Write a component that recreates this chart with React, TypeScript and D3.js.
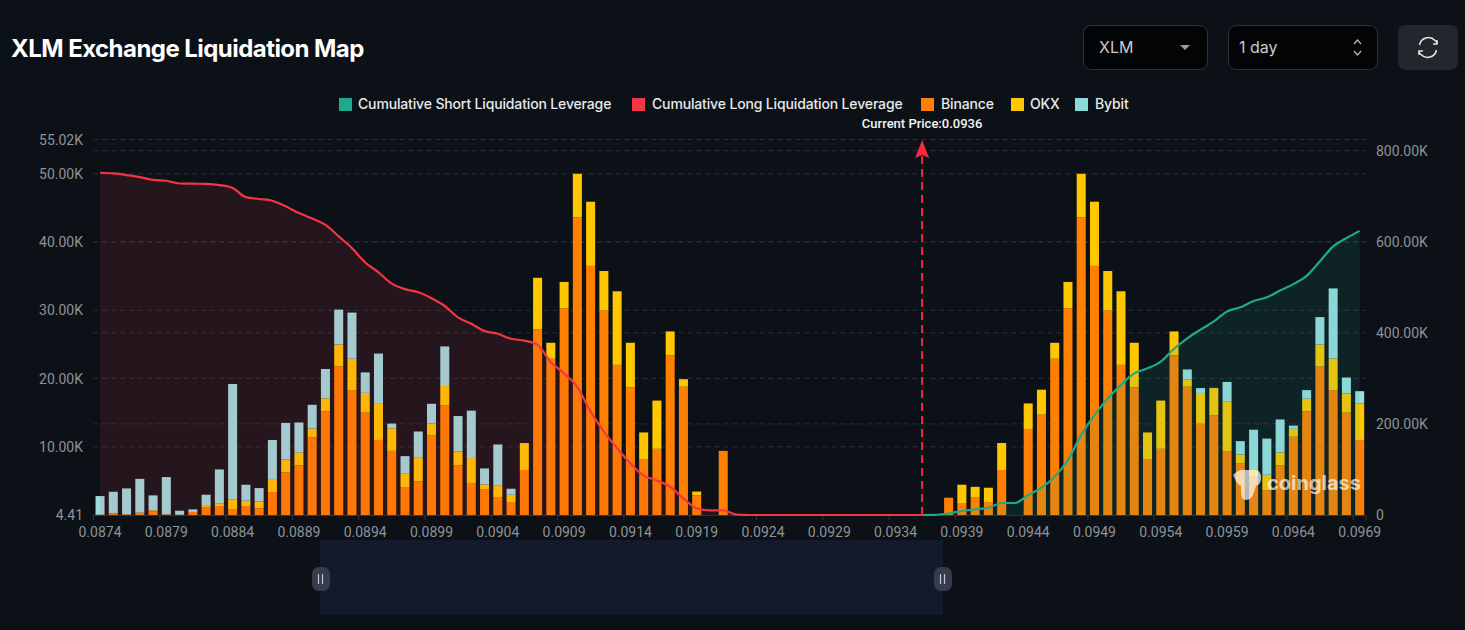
import React from "react";
import * as d3 from "d3";

const prices = [
  "0.0874","0.0875","0.0876","0.0877","0.0878","0.0879","0.0880","0.0881","0.0882","0.0883","0.0884","0.0885",
  "0.0886","0.0887","0.0888","0.0889","0.0890","0.0891","0.0892","0.0893","0.0894","0.0895","0.0896","0.0897",
  "0.0898","0.0899","0.0900","0.0901","0.0902","0.0903","0.0904","0.0905","0.0906","0.0907","0.0908","0.0909",
  "0.0910","0.0911","0.0912","0.0913","0.0914","0.0915","0.0916","0.0917","0.0918","0.0919","0.0920","0.0921",
  "0.0922","0.0923","0.0924","0.0925","0.0926","0.0927","0.0928","0.0929","0.0930","0.0931","0.0932","0.0933",
  "0.0934","0.0935","0.0936","0.0937","0.0938","0.0939","0.0940","0.0941","0.0942","0.0943","0.0944","0.0945",
  "0.0946","0.0947","0.0948","0.0949","0.0950","0.0951","0.0952","0.0953","0.0954","0.0955","0.0956","0.0957",
  "0.0958","0.0959","0.0960","0.0961","0.0962","0.0963","0.0964","0.0965","0.0966","0.0967","0.0968","0.0969",
];

const binance = [
  0, 0.25, 0.05, 0.3, 0.55, 0.05, 0, 0.45, 1.17, 1.32, 0.88, 1.32,
  0.98, 3.37, 6.24, 7.3, 11.4, 15.2, 21.8, 18.3, 15, 11, 9.4, 4.1,
  4.93, 11.7, 16.1, 7.3, 4.7, 3.8, 2.63, 1.9, 6.6, 27.2, 22.9, 30.3,
  43.6, 36.5, 29.95, 22, 18.7, 8.2, 9.7, 23.4, 18.8, 2.9, 0, 9.4,
  0, 0, 0, 0, 0, 0, 0, 0, 0, 0, 0, 0,
  0, 0, 0, 0, 2.54, 1.76, 2.63, 1.9, 6.6, 0, 12.6, 14.7,
  22.9, 30.3, 43.6, 36.5, 29.95, 22, 18.7, 8.2, 9.7, 23.4, 18.8, 13.37,
  14.6, 9.37, 7.56, 5.6, 3.66, 7.3, 11.46, 15.2, 21.8, 18.3, 15, 11,
];
const okx = [
  0.05, 0.02, 0.05, 0.05, 0.15, 0.05, 0.05, 0, 0.29, 0.34, 1.37, 0.78,
  1.02, 1.9, 1.9, 1.85, 1.27, 1.9, 3.2, 4.6, 2.9, 5.4, 3.3, 1.95,
  3.46, 1.7, 2.8, 2, 3.65, 0.68, 1.66, 1.07, 3.95, 7.56, 2.34, 3.85,
  6.4, 9.4, 5.8, 10.78, 6.54, 3.9, 7.07, 3.5, 1.1, 0.54, 0, 0,
  0, 0, 0, 0, 0, 0, 0, 0, 0, 0, 0, 0,
  0, 0, 0, 0, 0, 2.68, 1.5, 2.1, 3.95, 0, 3.75, 3.66,
  2.34, 3.85, 6.4, 9.4, 5.8, 10.78, 6.54, 3.9, 7.07, 3.5, 1.07, 4.5,
  4, 7.3, 1.3, 1, 2.24, 1.85, 1.17, 1.85, 3.2, 4.63, 2.8, 5.37,
];
const bybit = [
  2.73, 3.14, 3.8, 4.95, 2.18, 5.46, 0.58, 0.38, 1.52, 5.02, 16.95, 2.34,
  1.95, 5.73, 5.36, 4.41, 3.48, 4.3, 5.1, 6.76, 3, 7.26, 0.7, 2.58,
  3.85, 2.9, 5.8, 5.2, 6.95, 2.35, 6.05, 0.88, 0, 0, 0, 0,
  0, 0, 0, 0, 0, 0, 0, 0, 0, 0, 0, 0,
  0, 0, 0, 0, 0, 0, 0, 0, 0, 0, 0, 0,
  0, 0, 0, 0, 0, 0, 0, 0, 0, 0, 0, 0,
  0, 0, 0, 0, 0, 0, 0, 0, 0, 0, 1.46, 0.73,
  0.03, 2.83, 1.97, 5.9, 5.3, 4.85, 0.47, 1.25, 4, 10.27, 2.35, 1.78,
];

// cumulative leverage, right axis, in thousands. Indexed from the first price.
const longCumulative = [
  751.6, 750, 746.5, 742, 736, 734, 728, 727.5, 727, 724.5, 718, 698,
  694, 690, 678, 663, 651, 637, 612, 586, 554.6, 533, 508, 496,
  489, 476, 459, 434, 420, 404, 398, 387, 383, 373.6, 335.5, 311,
  280.6, 227, 183, 146.5, 113.5, 86.4, 76, 62, 36.6, 14.6, 10, 10,
  0.7, 0, 0, 0, 0, 0, 0, 0, 0, 0, 0, 0, 0, 0, 0,
];
// Indexed from the current price (0.0936).
const shortCumulative = [
  0, 0.2, 3.7, 8.8, 12.5, 16, 26.4, 26.4, 44, 60, 84, 121,
  176, 220, 256, 286, 311, 322, 337, 365, 388, 407, 425, 447,
  456, 470, 478, 493, 507, 525, 557, 590, 608, 624,
];
const shortStart = 62;

const leftTicks = [4.41e-3, 10, 20, 30, 40, 50, 55.02];
const leftTickLabels = ["4.41", "10.00K", "20.00K", "30.00K", "40.00K", "50.00K", "55.02K"];
const rightTicks = [0, 200, 400, 600, 800];
const rightTickLabels = ["0", "200.00K", "400.00K", "600.00K", "800.00K"];
const legendItems = [
  { label: "Cumulative Short Liquidation Leverage", color: "#1FA98C", sq: 339, tx: 358 },
  { label: "Cumulative Long Liquidation Leverage", color: "#F23645", sq: 632, tx: 652 },
  { label: "Binance", color: "#FF8000", sq: 921, tx: 941 },
  { label: "OKX", color: "#FFC700", sq: 1011, tx: 1030 },
  { label: "Bybit", color: "#8BDADB", sq: 1075, tx: 1095 },
];

const BG = "#0C1118";
const UI = "Inter, 'Noto Sans', sans-serif";
const AXIS = "Roboto, 'Noto Sans', sans-serif";

export default function App() {
  const x = d3.scaleBand<string>().domain(prices).range([93.4, 1366.3]).paddingInner(0.32).paddingOuter(0.16);
  const yL = d3.scaleLinear().domain([0.00441, 55.02]).range([515, 139.5]);
  const yR = d3.scaleLinear().domain([0, 800]).range([515, 150.7]);
  const cx = (i: number) => (x(prices[i]) as number) + x.bandwidth() / 2;

  const table = prices.map((p, i) => ({ p, binance: binance[i], okx: okx[i], bybit: bybit[i] }));
  const stack = d3.stack<any>().keys(["binance", "okx", "bybit"])(table);
  const barColor: Record<string, string> = { binance: "#FF8000", okx: "#FFC700", bybit: "#9ADDE0" };

  const longPts = longCumulative.map((v, i) => [cx(i), v] as [number, number]);
  const shortPts = shortCumulative.map((v, i) => [cx(i + shortStart), v] as [number, number]);
  const line = d3.line<[number, number]>().x((d) => d[0]).y((d) => yR(d[1])).curve(d3.curveMonotoneX);
  const area = d3.area<[number, number]>().x((d) => d[0]).y0(yR(0)).y1((d) => yR(d[1])).curve(d3.curveMonotoneX);
  const px = cx(shortStart);

  return (
    <svg width={1465} height={630} style={{ position: "absolute", left: 0, top: 0, background: BG }}>
      <rect width={1465} height={630} fill={BG} />
      <text x={11} y={57} fill="#fff" fontFamily={UI} fontSize={24} fontWeight={700} letterSpacing={-0.55}>
        XLM Exchange Liquidation Map
      </text>

      {/* controls */}
      <rect x={1083.5} y={25.5} width={124} height={44} rx={8} fill="#030406" stroke="#2E3238" />
      <text x={1099} y={53} fill="#C9CBCE" fontFamily={UI} fontSize={16}>XLM</text>
      <path d="M1180 45 h10 l-5 5 z" fill="#9a9c9f" />
      <rect x={1228.5} y={25.5} width={149} height={44} rx={8} fill="#030406" stroke="#2E3238" />
      <text x={1239} y={53} fill="#C9CBCE" fontFamily={UI} fontSize={16}>1 day</text>
      <path d="M1354 44 l3.5 -4 l3.5 4 M1354 51 l3.5 4 l3.5 -4" fill="none" stroke="#bbb" strokeWidth={1.2} />
      <rect x={1398} y={25} width={60} height={45} rx={7} fill="#22262D" />
      <g fill="none" stroke="#E6E7E8" strokeWidth={1.5}>
        <path d="M1419.5 45 a9 9 0 0 1 15.5 -4.5 l2.5 2.5" />
        <path d="M1437 40 v4 h-4" />
        <path d="M1436.5 50 a9 9 0 0 1 -15.5 4.5 l-2.5 -2.5" />
        <path d="M1419 55 v-4 h4" />
      </g>

      {/* legend */}
      {legendItems.map((l) => (
        <g key={l.label}>
          <rect x={l.sq} y={98} width={13} height={13} fill={l.color} />
          <text x={l.tx} y={109} fill="#E8E9EA" fontFamily={UI} fontSize={14} fontWeight={500} letterSpacing={-0.15}>
            {l.label}
          </text>
        </g>
      ))}

      {/* grid */}
      <g stroke="#2A2E35" strokeDasharray="5 4" strokeWidth={1}>
        {leftTicks.slice(1).map((t) => (
          <line key={"l" + t} x1={93.4} x2={1366.3} y1={yL(t)} y2={yL(t)} />
        ))}
        {rightTicks.slice(1).map((t) => (
          <line key={"r" + t} x1={93.4} x2={1366.3} y1={yR(t)} y2={yR(t)} />
        ))}
      </g>
      <line x1={93.4} x2={1366.3} y1={515.5} y2={515.5} stroke="#30343B" />
      {prices.map((p, i) =>
        i % 5 === 0 ? (
          <line key={p} x1={(x(p) as number) - 2} x2={(x(p) as number) - 2} y1={515} y2={520} stroke="#30343B" />
        ) : null
      )}
      <line x1={1366} x2={1366} y1={515} y2={520} stroke="#30343B" />

      {/* bars */}
      {stack.map((s) => (
        <g key={s.key} fill={barColor[s.key]}>
          {s.map((d, i) =>
            d[1] - d[0] > 0 ? (
              <rect key={i} x={x(prices[i])} width={x.bandwidth()} y={yL(d[1])} height={yL(d[0]) - yL(d[1])} />
            ) : null
          )}
        </g>
      ))}

      {/* cumulative */}
      <path d={area(longPts) as string} fill="#F23645" fillOpacity={0.11} />
      <path d={area(shortPts) as string} fill="#1FA98C" fillOpacity={0.12} />
      <path d={line(longPts) as string} fill="none" stroke="#F23645" strokeWidth={2.2} />
      <path d={line(shortPts) as string} fill="none" stroke="#1FA98C" strokeWidth={2.2} />

      {/* current price */}
      <line x1={px} x2={px} y1={515} y2={156} stroke="#F5293D" strokeWidth={2} strokeDasharray="8 5" />
      <path d={`M${px} 140 L${px + 7} 158 L${px} 155 L${px - 7} 158 Z`} fill="#F5293D" />
      <text x={px} y={128} textAnchor="middle" fill="#F2F3F4" fontFamily={AXIS} fontSize={13} fontWeight={500}>
        Current Price:0.0936
      </text>

      {/* axes */}
      <g fill="#8F9296" fontFamily={AXIS} fontSize={14}>
        {leftTicks.map((t, i) => (
          <text key={t} x={83} y={yL(t) + 5} textAnchor="end">{leftTickLabels[i]}</text>
        ))}
        {rightTicks.map((t, i) => (
          <text key={t} x={1376} y={yR(t) + 5}>{rightTickLabels[i]}</text>
        ))}
        {prices.map((p, i) =>
          i % 5 === 0 ? (
            <text key={p} x={cx(i)} y={537} textAnchor="middle">{p}</text>
          ) : null
        )}
      </g>

      {/* watermark */}
      <path
        d="M1233 475 q6 -6 12 -5 l8 0 q6 -1 8 5 l0 5 q-1 5 -5 6 l-2 6 q-2 8 -8 8 q-5 0 -5 -8 l0 -6 q-5 -3 -6 -7 z"
        fill="#FFFFFF"
        fillOpacity={0.68}
      />
      <text x={1267} y={490} fill="#fff" fillOpacity={0.68} fontFamily={UI} fontSize={20} fontWeight={700}>
        coinglass
      </text>

      {/* zoom slider */}
      <rect x={320} y={540} width={623} height={75} fill="#131A2B" />
      {[320, 942].map((h) => (
        <g key={h}>
          <rect x={h - 8} y={567} width={18} height={24} rx={7} fill="#363C4D" />
          <path d={`M${h - 1.5} 574 v10 M${h + 2.5} 574 v10`} stroke="#C4C7CE" strokeWidth={1.2} />
        </g>
      ))}
    </svg>
  );
}
